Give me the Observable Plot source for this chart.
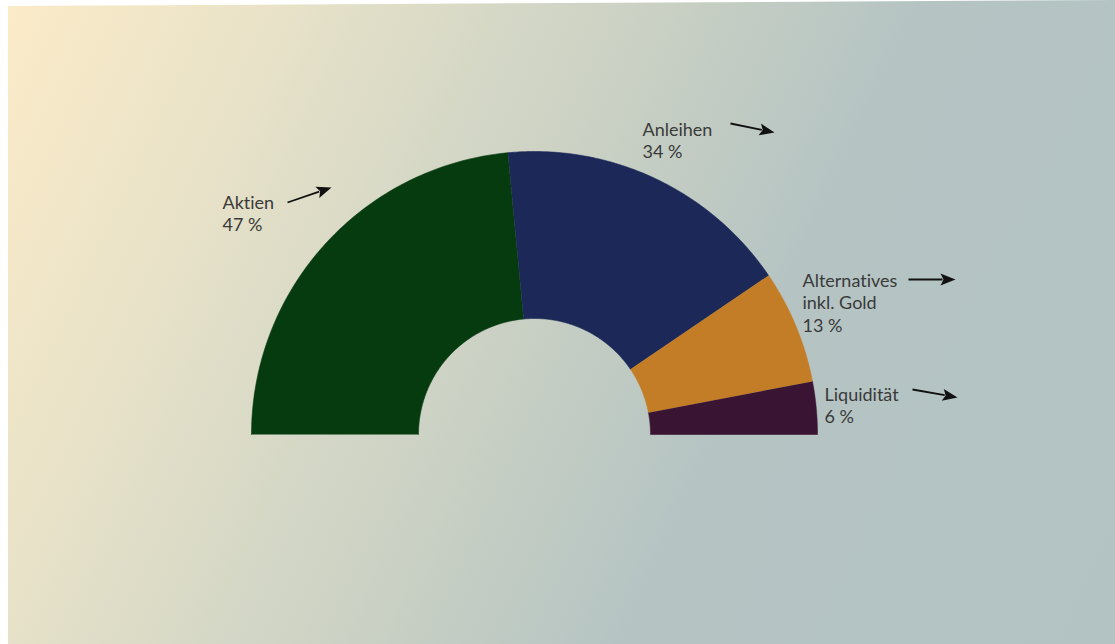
<!DOCTYPE html>
<html><head><meta charset="utf-8">
<script src="https://cdn.jsdelivr.net/npm/d3@7"></script>
<script src="https://cdn.jsdelivr.net/npm/@observablehq/plot@0.6"></script>
<style>
html,body{margin:0;padding:0;background:#fff;}
#chart{position:absolute;left:0;top:0;width:1115px;height:644px;
background:linear-gradient(115deg,#fcebc8 0%,#e8e2c8 20%,#d4d7c6 37%,#c6cec3 50%,#b5c4c3 65%,#b3c3c3 100%);
clip-path:polygon(8px 6px,1115px 0,1115px 644px,8px 644px);}
#chart text{font-variant-ligatures:none;}
</style></head><body><div id="chart"></div>
<script>
// ---- data ----
const categories = ["Aktien", "Anleihen", "Alternatives\ninkl. Gold", "Liquidität"];
const shares = [47, 34, 13, 6];
const valueLabels = ["47 %", "34 %", "13 %", "6 %"];
const colors = ["#063a0f", "#1c2857", "#c27d26", "#3a1533"];

// ---- layout ----
const W = 1115, H = 644;
const cx = 534, cy = 434, R = 283, r0 = 116;
const fontSize = 18;
// label top-left (x, first baseline) and arrow start / tip
const labelPos = [[222, 205], [642, 132], [802, 283], [824, 397]];
const arrowPos = [[287, 202, 331, 187], [730, 123, 774, 132], [908, 279, 955, 279], [912, 389, 957, 397]];

const total = d3.sum(shares);
const slices = [];
let acc = 0;
shares.forEach((v, i) => {
  const a0 = Math.PI * (1 - acc / total);
  acc += v;
  const a1 = Math.PI * (1 - acc / total);
  const n = 120;
  for (let k = 0; k <= n; k++) { const a = a0 + (a1 - a0) * k / n; slices.push({cat: categories[i], x: cx + R * Math.cos(a), y: cy - R * Math.sin(a)}); }
  for (let k = 0; k <= n; k++) { const a = a1 + (a0 - a1) * k / n; slices.push({cat: categories[i], x: cx + r0 * Math.cos(a), y: cy - r0 * Math.sin(a)}); }
});

const labels = categories.map((c, i) => ({text: c + "\n" + valueLabels[i], x: labelPos[i][0], y: labelPos[i][1] - 0.71 * fontSize}));

const HL = 15, HW = 6;
const links = [], heads = [];
arrowPos.forEach(([x1, y1, x2, y2], i) => {
  const len = Math.hypot(x2 - x1, y2 - y1), ux = (x2 - x1) / len, uy = (y2 - y1) / len;
  const bx = x2 - HL * ux, by = y2 - HL * uy;
  links.push({x1, y1, x2: bx + 2 * ux, y2: by + 2 * uy});
  heads.push({id: i, x: x2, y: y2}, {id: i, x: bx - HW * uy, y: by + HW * ux}, {id: i, x: bx + 3 * ux, y: by + 3 * uy}, {id: i, x: bx + HW * uy, y: by - HW * ux});
});

const chart = Plot.plot({
  width: W, height: H, margin: 0,
  x: {domain: [0, W], range: [0, W], axis: null},
  y: {domain: [0, H], range: [0, H], axis: null},
  color: {domain: categories, range: colors},
  style: {background: "transparent", fontFamily: "Lato, sans-serif"},
  marks: [
    Plot.line(slices, {x: "x", y: "y", z: "cat", fill: "cat", stroke: "cat", strokeWidth: 0.6}),
    Plot.text(labels, {x: "x", y: "y", text: "text", textAnchor: "start", lineAnchor: "top", lineHeight: 1.25, fontSize, fill: "#3a3a3a"}),
    Plot.link(links, {x1: "x1", y1: "y1", x2: "x2", y2: "y2", stroke: "#111", strokeWidth: 1.8}),
    Plot.line(heads, {x: "x", y: "y", z: "id", fill: "#111", stroke: "none"})
  ]
});
document.getElementById("chart").append(chart);
</script></body></html>
